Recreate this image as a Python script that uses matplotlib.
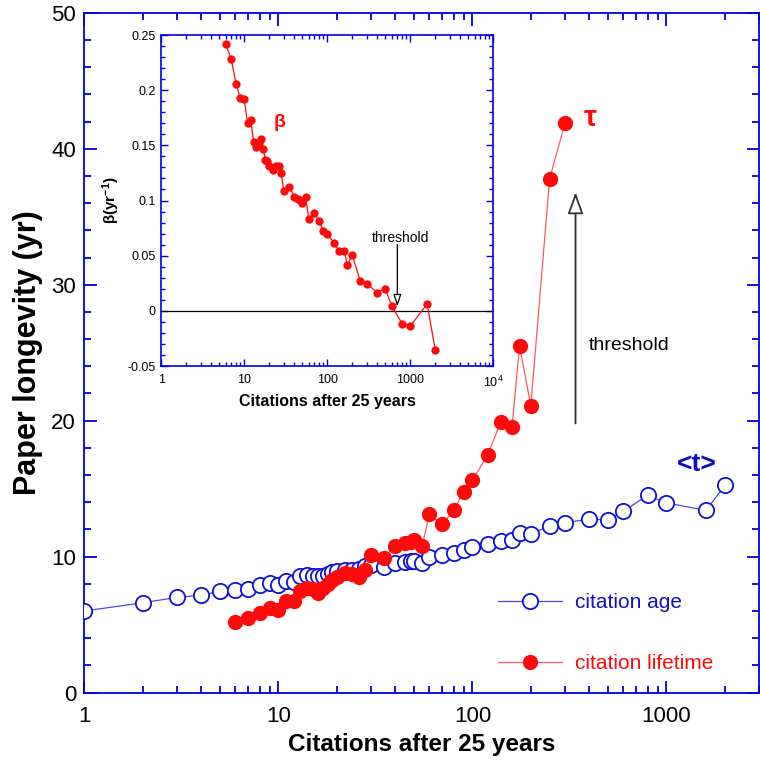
import numpy as np
import matplotlib
matplotlib.use('Agg')
from matplotlib import pyplot as plt
from matplotlib.ticker import LogLocator, MultipleLocator, NullFormatter, FixedLocator, FuncFormatter

plt.rcParams['font.family'] = ['Liberation Sans', 'DejaVu Sans']
plt.rcParams['mathtext.fontset'] = 'custom'
plt.rcParams['mathtext.rm'] = 'Liberation Sans'
plt.rcParams['mathtext.bf'] = 'Liberation Sans:bold'

# citations after 25 years (x values shared by the series)
x_age = [1, 2, 3, 4, 5, 6, 7, 8, 9, 10, 11, 12, 13, 14, 15, 16, 17, 18, 19, 20,
         22, 24, 26, 28, 30, 35, 40, 45, 48, 50, 55, 60, 70, 80, 90, 100, 120,
         140, 160, 175, 200, 250, 300, 400, 500, 600, 800, 1000, 1600, 2000]
age = [6.0, 6.6, 7.0, 7.15, 7.45, 7.55, 7.65, 7.9, 8.05, 7.9, 8.2, 8.1, 8.55, 8.65,
       8.55, 8.55, 8.6, 8.7, 8.85, 8.95, 9.05, 9.05, 9.1, 9.3, 9.4, 9.25, 9.5, 9.6,
       9.65, 9.65, 9.5, 10.0, 10.1, 10.25, 10.5, 10.7, 10.9, 11.15, 11.2, 11.7,
       11.65, 12.25, 12.5, 12.75, 12.7, 13.35, 14.5, 13.95, 13.4, 15.25]

x_tau = [6, 7, 8, 9, 10, 11, 12, 13, 14, 15, 16, 17, 18, 19, 20, 22, 24, 26, 28,
         30, 35, 40, 45, 48, 50, 55, 60, 70, 80, 90, 100, 120, 140, 160, 175, 200,
         250, 300]
tau = [5.2, 5.45, 5.85, 6.2, 6.1, 6.75, 6.7, 7.45, 7.7, 7.6, 7.35, 7.7, 8.0, 8.3,
       8.5, 8.8, 8.7, 8.5, 9.0, 10.15, 9.9, 10.8, 11.0, 11.1, 11.25, 10.75, 13.1,
       12.4, 13.4, 14.75, 15.6, 17.5, 19.9, 19.5, 25.5, 21.1, 37.8, 41.9]

x_beta = [6, 7, 8, 9, 10, 11, 12, 13, 14, 15, 16, 17, 18, 19, 20, 22, 24, 26, 28,
          30, 35, 40, 45, 48, 50, 55, 60, 70, 80, 90, 100, 120, 140, 160, 175, 200,
          250, 300, 400, 500, 600, 800, 1000, 1600, 2000]
beta = [0.2415, 0.228, 0.2053, 0.1926, 0.1923, 0.170, 0.173, 0.153, 0.1489, 0.1525,
        0.1555, 0.147, 0.137, 0.136, 0.131, 0.128, 0.131, 0.1316, 0.1247, 0.109,
        0.1126, 0.1036, 0.1015, 0.100, 0.098, 0.103, 0.0833, 0.0885, 0.0812, 0.0728,
        0.0697, 0.0619, 0.054, 0.0546, 0.0414, 0.0507, 0.0272, 0.0248, 0.0166,
        0.0202, 0.0042, -0.0115, -0.0139, 0.0063, -0.0353]

BLUE = '#1010d8'
RED = '#ff0a0a'

fig = plt.figure(figsize=(7.6, 7.61), dpi=100)
ax = fig.add_axes([0.111, 0.090, 0.8877, 0.893])

ax.plot(x_age, age, '-o', color='#4848e8', lw=0.9, ms=11, mfc='white',
        mec=BLUE, mew=1.3, label='citation age', zorder=3)
ax.plot(x_tau, tau, '-o', color='#ff5a5a', lw=0.9, ms=11, mfc=RED,
        mec=RED, mew=0, label='citation lifetime', zorder=4)

ax.set_xscale('log')
ax.set_xlim(1, 3000)
ax.set_ylim(0, 50)
ax.xaxis.set_major_locator(FixedLocator([1, 10, 100, 1000]))
ax.set_xticklabels(['1', '10', '100', '1000'])
ax.xaxis.set_minor_locator(LogLocator(base=10, subs=np.arange(2, 10)))
ax.xaxis.set_minor_formatter(NullFormatter())
ax.yaxis.set_major_locator(MultipleLocator(10))
ax.yaxis.set_minor_locator(MultipleLocator(2))
for s in ax.spines.values():
    s.set_color('#0000e0')
    s.set_linewidth(1.3)
ax.tick_params(which='both', direction='in', top=True, right=True,
               color='#0000e0', width=1.3, labelsize=16)
ax.tick_params(which='major', length=9)
ax.tick_params(which='minor', length=5)
ax.tick_params(axis='x', pad=10)
ax.tick_params(axis='y', pad=6)
ax.set_xlabel('Citations after 25 years', fontsize=17.5, fontweight='bold', labelpad=4)
ax.set_ylabel('Paper longevity (yr)', fontsize=22, fontweight='bold', labelpad=6)

ax.text(405, 42.3, r'$\mathbf{\tau}$', color=RED, fontsize=21, ha='center', va='center')
ax.text(1430, 16.8, '<t>', color='#0a0ac8', fontsize=19, fontweight='bold',
        ha='center', va='center')

ax.annotate('', xy=(340, 36.8), xytext=(340, 19.8),
            arrowprops=dict(arrowstyle='-|>,head_length=1.1,head_width=0.4',
                            lw=1.3, color='#707070', fc='white', ec='#303030',
                            shrinkA=0, shrinkB=0, mutation_scale=12))
ax.text(400, 25.5, 'threshold', fontsize=14, ha='left', va='center')

leg = ax.legend(loc='lower left', bbox_to_anchor=(0.585, 0.001), frameon=False,
                numpoints=1, fontsize=15, handlelength=3.1, handletextpad=0.6,
                labelspacing=2.0)
leg.get_texts()[0].set_color('#1010c0')
leg.get_texts()[1].set_color(RED)

# inset: beta
ins = fig.add_axes([0.212, 0.519, 0.437, 0.435])
ins.plot(x_beta, beta, '-o', color=RED, lw=0.9, ms=6, mew=0, zorder=3)
ins.axhline(0, color='black', lw=0.9, zorder=2)
ins.set_xscale('log')
ins.set_xlim(1, 1e4)
ins.set_ylim(-0.05, 0.25)
ins.xaxis.set_major_locator(FixedLocator([1, 10, 100, 1000, 10000]))
ins.set_xticklabels(['1', '10', '100', '1000', r'10$^4$'])
ins.xaxis.set_minor_locator(LogLocator(base=10, subs=np.arange(2, 10)))
ins.xaxis.set_minor_formatter(NullFormatter())
ins.yaxis.set_major_locator(MultipleLocator(0.05))
ins.yaxis.set_minor_locator(MultipleLocator(0.01))
ins.yaxis.set_major_formatter(FuncFormatter(
    lambda v, p: '0' if abs(v) < 1e-9 else ('%g' % round(v, 2))))
for s in ins.spines.values():
    s.set_color('#0000e0')
    s.set_linewidth(1.2)
ins.tick_params(which='both', direction='in', top=True, right=True,
                color='#0000e0', width=1.0, labelsize=9)
ins.tick_params(which='major', length=5)
ins.tick_params(which='minor', length=3)
ins.tick_params(axis='x', pad=6)
ins.tick_params(axis='y', pad=4)
ins.set_xlabel('Citations after 25 years', fontsize=11.5, fontweight='bold', labelpad=3)
ins.set_ylabel(r'$\mathbf{\beta(yr^{-1})}$', fontsize=11, labelpad=4)
ins.text(27, 0.171, r'$\mathbf{\beta}$', color=RED, fontsize=14, ha='center', va='center')
ins.text(760, 0.066, 'threshold', fontsize=10, ha='center', va='center')
ins.annotate('', xy=(700, 0.004), xytext=(700, 0.060),
             arrowprops=dict(arrowstyle='-|>,head_length=0.9,head_width=0.3',
                             lw=0.9, color='black', fc='white', ec='black',
                             shrinkA=0, shrinkB=0, mutation_scale=8))

fig.savefig('out.png', dpi=100)
